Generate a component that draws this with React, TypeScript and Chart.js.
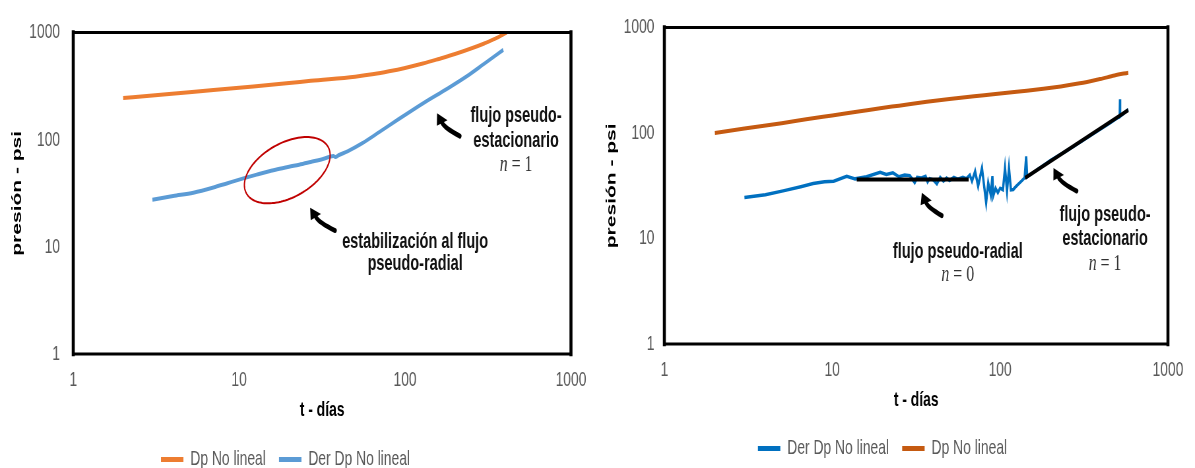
import React, { useEffect, useRef } from 'react';
import { Chart, registerables } from 'chart.js';

Chart.register(...registerables);

const FONT = "'Liberation Sans', Arial, sans-serif";
const SERIF = "'Liberation Serif', 'DejaVu Serif', serif";
const TICKS = [1, 10, 100, 1000];

// ---- Left chart data (t in days, pressure in psi) ----
const leftDpT = [2, 3, 5, 7, 10, 20, 27, 50, 65, 80, 100, 128, 160, 200, 257, 300, 350, 410];
const leftDpP = [245, 259, 278, 291, 306, 338, 355, 388, 410, 435, 468, 514, 568, 631, 722, 792, 877, 1000];
const leftDerT = [3, 4, 5.3, 7, 8.5, 10.6, 13, 15, 17, 20, 23, 27, 32, 37, 38, 40, 45, 55, 70, 90, 129, 180, 235, 300, 391];
const leftDerP = [27.5, 29.8, 32, 35.8, 39.3, 43.6, 47.6, 50.5, 53, 56, 58.5, 62, 66, 70.5, 69, 72, 78, 92.5, 118, 153, 220, 300, 390, 512, 690];

// ---- Right chart data ----
const rightDpT = [2, 3, 5, 7, 10, 15, 19.3, 25, 36.6, 50, 70, 91, 130, 181, 230, 286, 350, 394, 480, 580];
const rightDpP = [100, 110.5, 124, 135, 147, 162, 172, 182, 198, 210, 223, 233, 248, 263, 277, 293, 312, 325, 351, 374];
const rightDerT = [3, 4, 5.1, 6.5, 7.7, 9, 10.2, 12.2, 13.7, 16, 19.3, 21, 23, 25, 27, 29, 31, 32, 34, 36, 37, 38, 40, 42, 44, 46, 48, 50, 53, 56, 60, 63, 66, 68, 71, 74, 78, 82.6, 85, 88, 90, 91, 94, 97, 100, 104, 107, 110, 113, 116, 120, 124, 128, 134, 140, 143, 145, 160, 200, 250, 300, 350, 400, 450, 500, 516, 518, 519, 540, 580];
const rightDerP = [24.5, 26, 28.3, 31, 33.3, 34.5, 35, 39, 36.8, 38.5, 42.5, 40.5, 42, 38.5, 40, 39.5, 34, 38, 37.5, 39, 34.5, 37, 36, 33, 38, 35, 37.5, 35.5, 38, 36.5, 38, 37, 40, 35, 43.4, 31.4, 46.5, 22, 33.7, 26, 39, 25.4, 30, 27.2, 30, 29, 46.6, 28.3, 46.6, 29, 29.2, 31, 32.6, 35, 37.6, 60, 38.5, 43, 55, 68, 82, 96, 110, 124, 139, 143, 209, 144, 152, 167];
const fitFlatT = [14, 65];
const fitFlatP = [36.3, 36.3];
const fitSlopeT = [141, 580];
const fitSlopeP = [37.6, 165];

// ---- Annotations (anchored in data coordinates) ----
const leftTexts = [
  { t: 467, p: 166, text: 'flujo pseudo-' },
  { t: 467, p: 97, text: 'estacionario' },
  { t: 467, p: 59, math: '1' },
  { t: 115, p: 11, text: 'estabilización al flujo' },
  { t: 115, p: 7, text: 'pseudo-radial' },
];
const leftArrows = [
  { tail: [214, 108], head: [156, 177], bend: -5 },
  { tail: [37.9, 14.2], head: [26.8, 23.2], bend: -5 },
];
const leftEllipses = [{ t: 19.5, p: 52, a: 47, b: 27, rot: -30 }];

const rightTexts = [
  { t: 56, p: 7.5, text: 'flujo pseudo-radial' },
  { t: 56, p: 4.5, math: '0' },
  { t: 422, p: 16.6, text: 'flujo pseudo-' },
  { t: 422, p: 9.9, text: 'estacionario' },
  { t: 422, p: 5.8, math: '1' },
];
const rightArrows = [
  { tail: [45, 16.5], head: [34.2, 27.2], bend: -5 },
  { tail: [286, 28.2], head: [208, 46.6], bend: -5 },
];

const pts = (t: number[], p: number[]) => t.map((x, i) => ({ x, y: p[i] }));

const decorPlugin = {
  id: 'decor',
  afterDraw(chart: any, _args: any, opts: any) {
    const { ctx, chartArea: a, scales } = chart;
    const sq = opts.sq as number;
    const px = (t: number) => scales.x.getPixelForValue(t);
    const py = (p: number) => scales.y.getPixelForValue(p);
    ctx.save();
    // ellipses
    (opts.ellipses || []).forEach((e: any) => {
      const cx = px(e.t), cy = py(e.p);
      const r = (e.rot * Math.PI) / 180;
      ctx.beginPath();
      for (let i = 0; i <= 120; i++) {
        const th = (i / 120) * Math.PI * 2;
        const dx = e.a * Math.cos(th) * Math.cos(r) - e.b * Math.sin(th) * Math.sin(r);
        const dy = e.a * Math.cos(th) * Math.sin(r) + e.b * Math.sin(th) * Math.cos(r);
        const x = cx + dx / sq, y = cy + dy;
        if (i === 0) ctx.moveTo(x, y); else ctx.lineTo(x, y);
      }
      ctx.closePath();
      ctx.strokeStyle = '#C00000';
      ctx.lineWidth = 2;
      ctx.stroke();
    });
    // arrows
    ctx.strokeStyle = '#000';
    ctx.fillStyle = '#000';
    (opts.arrows || []).forEach((ar: any) => {
      const X0 = px(ar.tail[0]) * sq, Y0 = py(ar.tail[1]);
      const X1 = px(ar.head[0]) * sq, Y1 = py(ar.head[1]);
      const mx = (X0 + X1) / 2, my = (Y0 + Y1) / 2;
      const dx = X1 - X0, dy = Y1 - Y0;
      const len = Math.hypot(dx, dy);
      const nx = -dy / len, ny = dx / len;
      const cxp = mx + nx * ar.bend, cyp = my + ny * ar.bend;
      const tx = X1 - cxp, ty = Y1 - cyp;
      const tl = Math.hypot(tx, ty);
      const ux = tx / tl, uy = ty / tl;
      const H = 11, W = 6;
      const bx = X1 - ux * H, by = Y1 - uy * H;
      ctx.beginPath();
      ctx.moveTo(X0 / sq, Y0);
      ctx.quadraticCurveTo(cxp / sq, cyp, bx / sq, by);
      ctx.lineWidth = 5;
      ctx.lineCap = 'round';
      ctx.stroke();
      ctx.beginPath();
      ctx.moveTo(X1 / sq, Y1);
      ctx.lineTo((bx - uy * W) / sq, by + ux * W);
      ctx.lineTo((bx + uy * W) / sq, by - ux * W);
      ctx.closePath();
      ctx.fill();
    });
    // texts
    ctx.textBaseline = 'middle';
    (opts.texts || []).forEach((tx: any) => {
      const x = px(tx.t), y = py(tx.p);
      if (tx.math !== undefined) {
        ctx.fillStyle = '#333';
        ctx.font = `italic 24px ${SERIF}`;
        const w1 = ctx.measureText('n').width;
        ctx.font = `24px ${SERIF}`;
        const rest = ' = ' + tx.math;
        const w2 = ctx.measureText(rest).width;
        const x0 = x - (w1 + w2) / 2;
        ctx.textAlign = 'left';
        ctx.font = `italic 24px ${SERIF}`;
        ctx.fillText('n', x0, y);
        ctx.font = `24px ${SERIF}`;
        ctx.fillText(rest, x0 + w1, y);
      } else {
        ctx.fillStyle = '#111';
        ctx.font = `bold 22px ${FONT}`;
        ctx.textAlign = 'center';
        ctx.fillText(tx.text, x, y);
      }
    });
    // frame around plot area
    ctx.strokeStyle = '#000';
    ctx.lineCap = 'square';
    ctx.lineWidth = 3;
    ctx.beginPath();
    ctx.moveTo(a.left, a.top);
    ctx.lineTo(a.right, a.top);
    ctx.moveTo(a.left, a.bottom);
    ctx.lineTo(a.right, a.bottom);
    ctx.stroke();
    ctx.lineWidth = 3 / sq;
    ctx.beginPath();
    ctx.moveTo(a.left, a.top);
    ctx.lineTo(a.left, a.bottom);
    ctx.moveTo(a.right, a.top);
    ctx.lineTo(a.right, a.bottom);
    ctx.stroke();
    ctx.restore();
  },
};

type Spec = {
  left: number; w: number; cssW: number; h: number;
  padTop: number; padRight: number; yW: number; yTickPad: number; yTitlePad: number;
  xH: number; xTitlePad: number; datasets: any[]; texts: any[]; arrows: any[]; ellipses: any[];
};

function makeConfig(s: Spec): any {
  const sq = s.cssW / s.w;
  const tickFont = { family: FONT, size: 21 };
  const titleFont = { family: FONT, size: 21, weight: 'bold' as const };
  return {
    type: 'line',
    data: { datasets: s.datasets },
    options: {
      responsive: false,
      animation: false,
      events: [],
      layout: { padding: { left: 0, top: s.padTop, right: s.padRight, bottom: 0 } },
      scales: {
        x: {
          type: 'logarithmic', min: 1, max: 1000,
          grid: { display: false, drawTicks: false },
          border: { display: false },
          afterBuildTicks: (sc: any) => { sc.ticks = TICKS.map((v) => ({ value: v })); },
          afterFit: (sc: any) => { sc.height = s.xH; },
          ticks: { padding: 14, font: tickFont, color: '#595959', maxRotation: 0, autoSkip: false, callback: (v: any) => String(v) },
          title: { display: true, text: 't - días', font: titleFont, color: '#000', padding: { top: 0, bottom: s.xTitlePad } },
        },
        y: {
          type: 'logarithmic', min: 1, max: 1000,
          grid: { display: false, drawTicks: false },
          border: { display: false },
          afterBuildTicks: (sc: any) => { sc.ticks = TICKS.map((v) => ({ value: v })); },
          afterFit: (sc: any) => { sc.width = s.yW; },
          ticks: { padding: s.yTickPad, font: tickFont, color: '#595959', autoSkip: false, callback: (v: any) => String(v) },
          title: { display: true, text: 'presión - psi', font: titleFont, color: '#000', padding: { top: s.yTitlePad, bottom: 0 } },
        },
      },
      plugins: {
        tooltip: { enabled: false },
        legend: {
          position: 'bottom',
          labels: {
            boxWidth: 34, boxHeight: 5, padding: 20, color: '#595959', font: { family: FONT, size: 21 },
            filter: (item: any) => item.text !== '',
            generateLabels: (chart: any) =>
              (Chart.defaults.plugins.legend.labels as any).generateLabels(chart).map((l: any) => ({ ...l, lineWidth: 0, fillStyle: l.strokeStyle })),
          },
        },
        decor: { sq, texts: s.texts, arrows: s.arrows, ellipses: s.ellipses },
      },
    },
    plugins: [decorPlugin],
  };
}

const line = (label: string, data: any[], color: string, width: number, smooth: boolean) => ({
  label, data, borderColor: color, backgroundColor: color, borderWidth: width, pointRadius: 0,
  ...(smooth ? { cubicInterpolationMode: 'monotone' } : { tension: 0 }),
});

const leftSpec: Spec = {
  left: 0, w: 905, cssW: 597, h: 480, padTop: 31, padRight: 39.5, yW: 111, yTickPad: 20, yTitlePad: 13.2,
  xH: 75, xTitlePad: 6.4,
  datasets: [
    line('Dp No lineal', pts(leftDpT, leftDpP), '#ED7D31', 4, true),
    line('Der Dp No lineal', pts(leftDerT, leftDerP), '#5B9BD5', 4, true),
  ],
  texts: leftTexts, arrows: leftArrows, ellipses: leftEllipses,
};

const rightSpec: Spec = {
  left: 597, w: 906, cssW: 598, h: 469, padTop: 22, padRight: 41, yW: 102, yTickPad: 15, yTitlePad: 9.7,
  xH: 74, xTitlePad: 5.4,
  datasets: [
    line('', pts(fitFlatT, fitFlatP), '#000000', 4, false),
    line('', pts(fitSlopeT, fitSlopeP), '#000000', 4, false),
    line('Der Dp No lineal', pts(rightDerT, rightDerP), '#0070C0', 3.5, false),
    line('Dp No lineal', pts(rightDpT, rightDpP), '#C55A11', 4, true),
  ],
  texts: rightTexts, arrows: rightArrows, ellipses: [],
};

function Panel({ spec }: { spec: Spec }) {
  const ref = useRef<HTMLCanvasElement>(null);
  useEffect(() => {
    const chart = new Chart(ref.current as HTMLCanvasElement, makeConfig(spec));
    return () => chart.destroy();
  }, [spec]);
  return (
    <canvas
      ref={ref}
      width={spec.w}
      height={spec.h}
      style={{
        position: 'absolute', left: spec.left, top: 0, width: spec.w, height: spec.h,
        transform: `scaleX(${spec.cssW / spec.w})`, transformOrigin: '0 0',
      }}
    />
  );
}

export default function App() {
  return (
    <div style={{ position: 'fixed', left: 0, top: 0, width: 1195, height: 468, overflow: 'hidden', background: '#fff' }}>
      <Panel spec={leftSpec} />
      <Panel spec={rightSpec} />
    </div>
  );
}
